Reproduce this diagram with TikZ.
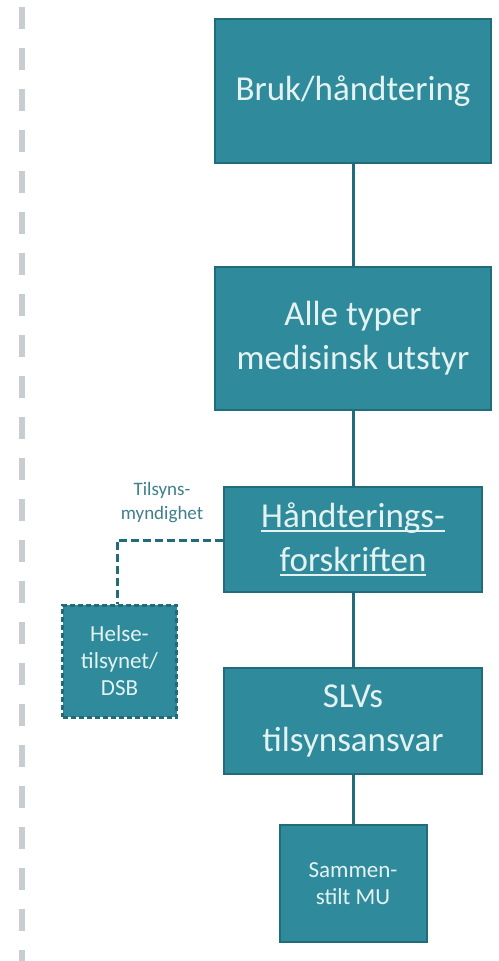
\documentclass[tikz,border=0pt]{standalone}
\usepackage{fontspec}
\setmainfont{Carlito}
\definecolor{tealfill}{HTML}{2F8B9B}
\definecolor{tealedge}{HTML}{216C7B}
\definecolor{boxtext}{HTML}{E4F3F2}
\definecolor{labeltext}{HTML}{3F7E8A}
\definecolor{railgray}{HTML}{C8CDD1}
% underline set a little below the baseline
\newcommand{\linkul}[1]{\leavevmode\setbox0\hbox{#1}%
  \rlap{\rule[-4pt]{\wd0}{1.5pt}}\box0}
\tikzset{
  mainbox/.style={draw=tealedge, line width=2pt, fill=tealfill, text=boxtext,
    align=center, inner sep=0pt, font=\fontsize{35}{44}\selectfont},
  smallbox/.style={mainbox, font=\fontsize{23}{27}\selectfont},
  dashbox/.style={smallbox, dash pattern=on 5pt off 3pt, line width=3pt},
  link/.style={draw=tealedge, line width=3pt},
  dashlink/.style={draw=tealedge, line width=3pt, dash pattern=on 8pt off 4pt},
  authlabel/.style={text=labeltext, align=center, inner sep=0pt,
    font=\fontsize{19}{24}\selectfont}
}
\begin{document}
\begin{tikzpicture}[x=1pt, y=-1pt]
  \useasboundingbox (0,0) rectangle (498,961);
  % dashed rail along the left edge
  \draw[railgray, line width=6pt, dash pattern=on 22pt off 19pt, dash phase=0pt]
    (22,7) -- (22,961);

  % main chain of boxes
  \node[mainbox, minimum width=276pt, minimum height=144pt] (b1) at (353,91)
    {Bruk/håndtering};
  \node[mainbox, minimum width=276pt, minimum height=143pt] (b2) at (353,338.5)
    {Alle typer\\medisinsk utstyr};
  \node[mainbox, minimum width=258pt, minimum height=105pt] (b3) at (353,539.5)
    {\linkul{Håndterings-}\\\linkul{forskriften}};
  \node[mainbox, minimum width=258pt, minimum height=106pt] (b4) at (353,721)
    {SLVs\\tilsynsansvar};
  \node[smallbox, minimum width=147pt, minimum height=117pt] (b5) at (353,883.5)
    {Sammen-\\stilt MU};

  % supervisory authority branch
  \node[dashbox, minimum width=114pt, minimum height=112pt] (helse) at (119.5,661)
    {Helse-\\tilsynet/\\DSB};
  \node[authlabel] (auth) at (162,503) {Tilsyns-\\myndighet};
  \coordinate (bend) at (117,540);

  % connectors
  \draw[link] (b1.south) -- (b2.north);
  \draw[link] (b2.south) -- (b3.north);
  \draw[link] (b3.south) -- (b4.north);
  \draw[link] (b4.south) -- (b5.north);
  \draw[dashlink] (b3.west |- bend) -- (bend) -- (bend |- helse.north);
\end{tikzpicture}
\end{document}
